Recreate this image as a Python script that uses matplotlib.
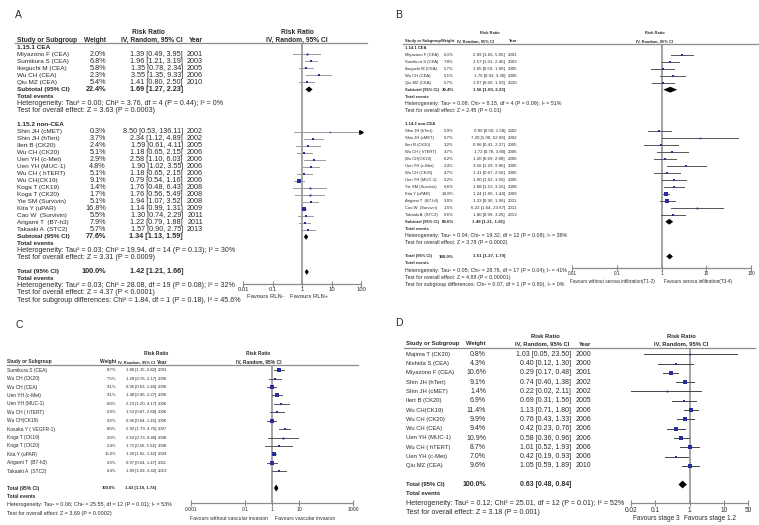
import matplotlib.pyplot as plt
import matplotlib.transforms as mtransforms
from matplotlib.lines import Line2D
from matplotlib.ticker import NullLocator
import numpy as np

plt.rcParams['font.family'] = ['Liberation Sans', 'DejaVu Sans']

# ---------------- Panel A data (RLN) ----------------
A1_names = ["Miyazono F (CEA)", "Sumikura S (CEA)", "Ikeguchi M (CEA)", "Wu CH (CEA)", "Qiu MZ (CEA)"]
A1_w = [2.0, 6.8, 5.8, 2.3, 5.4]
A1_rr = [1.39, 1.96, 1.35, 3.55, 1.41]
A1_lo = [0.49, 1.21, 0.78, 1.35, 0.80]
A1_hi = [3.95, 3.19, 2.34, 9.33, 2.50]
A1_year = [2001, 2003, 2005, 2006, 2010]
A1_sub = [22.4, 1.69, 1.27, 2.23]
A1_het = "Heterogeneity: Tau² = 0.00; Chi² = 3.76, df = 4 (P = 0.44); I² = 0%"
A1_z = "Test for overall effect: Z = 3.63 (P = 0.0003)"

A2_names = ["Shin JH (cMET)", "Shin JH (hTert)", "Ilert B (CK20)", "Wu CH (CK20)", "Uen YH (c-Met)",
            "Uen YH (MUC-1)", "Wu CH ( hTERT)", "Wu CH(CK19)", "Koga T (CK19)", "Koga T (CK20)",
            "Yie SM (Survivin)", "Kita Y (uPAR)", "Cao W  (Survivin)", "Arigami T  (B7-h3)", "Takaaki A  (STC2)"]
A2_w = [0.3, 3.7, 2.4, 5.1, 2.9, 4.8, 5.1, 9.1, 1.4, 1.7, 5.1, 16.8, 5.5, 7.9, 5.7]
A2_rr = [8.50, 2.34, 1.59, 1.18, 2.58, 1.90, 1.18, 0.79, 1.76, 1.76, 1.94, 1.14, 1.30, 1.22, 1.57]
A2_lo = [0.53, 1.12, 0.61, 0.65, 1.10, 1.02, 0.65, 0.54, 0.48, 0.56, 1.07, 0.99, 0.74, 0.79, 0.90]
A2_hi = [136.11, 4.89, 4.11, 2.15, 6.03, 3.55, 2.15, 1.16, 6.43, 5.49, 3.52, 1.31, 2.29, 1.88, 2.75]
A2_year = [2002, 2002, 2005, 2006, 2006, 2006, 2006, 2006, 2008, 2008, 2008, 2009, 2011, 2011, 2013]
A2_sub = [77.6, 1.34, 1.13, 1.59]
A2_het = "Heterogeneity: Tau² = 0.03; Chi² = 19.94, df = 14 (P = 0.13); I² = 30%"
A2_z = "Test for overall effect: Z = 3.31 (P = 0.0009)"

A_tot = [100.0, 1.42, 1.21, 1.66]
A_het = "Heterogeneity: Tau² = 0.03; Chi² = 28.08, df = 19 (P = 0.08); I² = 32%"
A_z = "Test for overall effect: Z = 4.37 (P < 0.0001)"
A_diff = "Test for subgroup differences: Chi² = 1.84, df = 1 (P = 0.18), I² = 45.6%"

# ---------------- Panel B data (serosa) ----------------
B1_names = ["Miyazono F (CEA)", "Sumikura S (CEA)", "Ikeguchi M (CEA)", "Wu CH (CEA)", "Qiu MZ (CEA)"]
B1_w = [6.1, 7.8, 5.7, 5.1, 5.7]
B1_rr = [2.89, 1.57, 1.05, 1.75, 1.07]
B1_lo = [1.66, 1.01, 0.59, 0.93, 0.60]
B1_hi = [5.05, 2.46, 1.89, 3.30, 1.93]
B1_year = [2001, 2003, 2005, 2006, 2010]
B1_sub = [30.4, 1.56, 1.09, 2.23]
B1_het = "Heterogeneity: Tau² = 0.08; Chi² = 8.15, df = 4 (P = 0.09); I² = 51%"
B1_z = "Test for overall effect: Z = 2.45 (P = 0.01)"

B2_names = ["Shin JH (hTert)", "Shin JH (cMET)", "Ilert B (CK20)", "Wu CH ( hTERT)", "Wu CH(CK19)",
            "Uen YH (c-Met)", "Wu CH (CK20)", "Uen YH (MUC-1)", "Yie SM (Survivin)", "Kita Y (uPAR)",
            "Arigami T  (B7-h3)", "Cao W  (Survivin)", "Takaaki A  (STC2)"]
B2_w = [5.9, 0.7, 3.2, 3.7, 6.2, 2.4, 4.7, 5.2, 6.6, 14.8, 9.0, 1.5, 5.6]
B2_rr = [0.89, 7.20, 0.96, 1.72, 1.20, 3.56, 1.31, 1.90, 1.88, 1.24, 1.33, 6.22, 1.80]
B2_lo = [0.50, 1.00, 0.41, 0.78, 0.69, 1.29, 0.67, 1.02, 1.12, 1.06, 0.90, 1.64, 0.99]
B2_hi = [1.58, 52.09, 2.27, 3.80, 2.08, 9.86, 2.56, 3.55, 3.16, 1.44, 1.96, 23.67, 3.25]
B2_year = [2002, 2002, 2005, 2006, 2006, 2006, 2006, 2006, 2008, 2009, 2011, 2011, 2013]
B2_sub = [69.6, 1.48, 1.21, 1.81]
B2_het = "Heterogeneity: Tau² = 0.04; Chi² = 19.32, df = 12 (P = 0.08); I² = 38%"
B2_z = "Test for overall effect: Z = 3.78 (P = 0.0002)"

B_tot = [100.0, 1.51, 1.27, 1.79]
B_het = "Heterogeneity: Tau² = 0.05; Chi² = 28.76, df = 17 (P = 0.04); I² = 41%"
B_z = "Test for overall effect: Z = 4.88 (P < 0.00001)"
B_diff = "Test for subgroup differences: Chi² = 0.07, df = 1 (P = 0.80), I² = 0%"

# ---------------- Panel C data (vascular invasion) ----------------
C_names = ["Sumikura S (CEA)", "Wu CH (CK20)", "Wu CH (CEA)", "Uen YH (c-Met)", "Uen YH (MUC-1)",
           "Wu CH ( hTERT)", "Wu CH(CK19)", "Kosaka Y ( VEGFR-1)", "Koga T (CK19)", "Koga T (CK20)",
           "Kita Y (uPAR)", "Arigami T  (B7-h3)", "Takaaki A  (STC2)"]
C_w = [8.7, 7.5, 9.1, 9.1, 6.0, 6.9, 9.6, 8.0, 2.0, 2.4, 15.0, 9.3, 6.4]
C_rr = [1.80, 1.28, 0.96, 1.48, 2.23, 1.53, 0.96, 2.92, 2.63, 1.75, 1.20, 0.97, 1.89]
C_lo = [1.15, 0.76, 0.63, 0.96, 1.20, 0.87, 0.64, 1.79, 0.73, 0.56, 1.02, 0.64, 1.04]
C_hi = [2.82, 2.17, 1.46, 2.27, 4.17, 2.68, 1.45, 4.76, 9.46, 5.54, 1.42, 1.47, 3.42]
C_year = [2003, 2006, 2006, 2006, 2006, 2006, 2006, 2007, 2008, 2008, 2009, 2011, 2013]
C_tot = [100.0, 1.43, 1.18, 1.74]
C_het = "Heterogeneity: Tau² = 0.06; Chi² = 25.55, df = 12 (P = 0.01); I² = 53%"
C_z = "Test for overall effect: Z = 3.69 (P = 0.0002)"

# ---------------- Panel D data (stage) ----------------
D_names = ["Majima T (CK20)", "Nishida S (CEA)", "Miyazono F (CEA)", "Shin JH (hTert)", "Shin JH (cMET)",
           "Ilert B (CK20)", "Wu CH(CK19)", "Wu CH (CK20)", "Wu CH (CEA)", "Uen YH (MUC-1)",
           "Wu CH ( hTERT)", "Uen YH (c-Met)", "Qiu MZ (CEA)"]
D_w = [0.8, 4.3, 10.6, 9.1, 1.4, 6.9, 11.4, 9.9, 9.4, 10.9, 8.7, 7.0, 9.6]
D_rr = [1.03, 0.40, 0.29, 0.74, 0.22, 0.69, 1.13, 0.76, 0.42, 0.58, 1.01, 0.42, 1.05]
D_lo = [0.05, 0.12, 0.17, 0.40, 0.02, 0.31, 0.71, 0.43, 0.23, 0.36, 0.52, 0.19, 0.59]
D_hi = [23.50, 1.30, 0.48, 1.38, 2.11, 1.56, 1.80, 1.33, 0.76, 0.96, 1.93, 0.93, 1.89]
D_year = [2000, 2000, 2001, 2002, 2002, 2005, 2006, 2006, 2006, 2006, 2006, 2006, 2010]
D_tot = [100.0, 0.63, 0.48, 0.84]
D_het = "Heterogeneity: Tau² = 0.12; Chi² = 25.01, df = 12 (P = 0.01); I² = 52%"
D_z = "Test for overall effect: Z = 3.18 (P = 0.001)"

W, H = 759, 525
fig = plt.figure(figsize=(W / 100, H / 100), dpi=100)

TXT = '#2a2a2a'
GREY = '#8c8c8c'
BLUE = '#2b2ba0'


def fx(x):
    return x / W


def fy(y):
    return 1 - y / H


def studies(names, w, rr, lo, hi, year):
    return [('study', n, a, b, c, d, e) for n, a, b, c, d, e in zip(names, w, rr, lo, hi, year)]


def summary(label, vals, het, z, extra=None):
    rows = [('sum', label, *vals), ('bold', 'Total events'), ('plain', het), ('plain', z)]
    if extra:
        rows.append(('plain', extra))
    return rows


def draw_panel(letter, rows, g):
    fn, fnum, fpl, fh, ftk, fci = g['fs']
    fig.text(fx(g['lab'][0]), fy(g['lab'][1]), letter, fontsize=7.5, ha='left', va='center', color=TXT)

    # column headings
    fig.text(fx(g['rr_title']), fy(g['t1']), 'Risk Ratio', fontsize=fh, weight='bold', ha='center', va='center', color=TXT)
    fig.text(fx(g['name_x']), fy(g['t2']), 'Study or Subgroup', fontsize=fh, weight='bold', ha='left', va='center', color=TXT)
    fig.text(fx(g['w_x']), fy(g['t2']), 'Weight', fontsize=fh, weight='bold', ha='right', va='center', color=TXT)
    fig.text(fx(g['hdr_x']), fy(g['t2']), 'IV, Random, 95% CI', fontsize=fci, weight='bold', ha='left', va='center', color=TXT)
    fig.text(fx(g['yr_x']), fy(g['t2']), 'Year', fontsize=fh, weight='bold', ha='right', va='center', color=TXT)
    fig.text(fx(g['fp_title']), fy(g['t1']), 'Risk Ratio', fontsize=fh, weight='bold', ha='center', va='center', color=TXT)
    fig.text(fx(g['fp_title']), fy(g['t2']), 'IV, Random, 95% CI', fontsize=fh, weight='bold', ha='center', va='center', color=TXT)
    fig.add_artist(Line2D([fx(g['line'][0]), fx(g['line'][1])], [fy(g['head_y'])] * 2,
                          transform=fig.transFigure, color=GREY, lw=0.9))

    ax = fig.add_axes([fx(g['ax'][0]), fy(g['axis_y']), (g['ax'][1] - g['ax'][0]) / W,
                       (g['axis_y'] - g['head_y']) / H])
    y0, sp = g['y0'], g['sp']
    ax.set_xscale('log')
    ax.set_xlim(g['xlim'])
    ax.set_ylim((g['axis_y'] - y0) / sp, (g['head_y'] - y0) / sp)
    ax.patch.set_alpha(0)
    for s in ['top', 'left', 'right']:
        ax.spines[s].set_visible(False)
    ax.spines['bottom'].set_color(GREY)
    ax.spines['bottom'].set_linewidth(0.9)
    ax.set_yticks([])
    ax.set_xticks(g['ticks'])
    ax.set_xticklabels([str(t) for t in g['ticks']])
    ax.xaxis.set_minor_locator(NullLocator())
    ax.tick_params(axis='x', direction='inout', length=4, width=0.8, color=GREY,
                   labelsize=ftk, labelcolor=TXT, pad=g['pad'])
    ax.axvline(1, color=GREY, lw=1.1, zorder=1)

    tr = mtransforms.blended_transform_factory(fig.transFigure, ax.transData)
    xmax = g['xlim'][1]
    for r, row in enumerate(rows):
        kind = row[0]
        if kind == 'blank':
            continue
        if kind in ('section', 'bold', 'plain'):
            ax.text(fx(g['name_x']), r, row[1], transform=tr, fontsize=fpl if kind == 'plain' else fn,
                    ha='left', va='center', color=TXT, weight='normal' if kind == 'plain' else 'bold')
            continue
        if kind == 'study':
            _, name, w, rr, lo, hi, yr = row
            wt = 'normal'
        else:
            _, name, w, rr, lo, hi = row
            wt = 'bold'
        ax.text(fx(g['name_x']), r, name, transform=tr, fontsize=fn, ha='left', va='center', color=TXT, weight=wt)
        ax.text(fx(g['w_x']), r, f"{w:.1f}%", transform=tr, fontsize=fnum, ha='right', va='center', color=TXT, weight=wt)
        ax.text(fx(g['rr_x']), r, f"{rr:.2f} [{lo:.2f}, {hi:.2f}]", transform=tr, fontsize=fnum,
                ha='right', va='center', color=TXT, weight=wt)
        if kind == 'study':
            ax.text(fx(g['yr_x']), r, str(yr), transform=tr, fontsize=fnum, ha='right', va='center', color=TXT)
            ax.plot([lo, min(hi, xmax)], [r, r], color=g['ci'], lw=0.7, zorder=2, clip_on=False)
            if hi > xmax:
                ax.plot(xmax, r, marker='>', ms=2.6, color='black', clip_on=False, zorder=3)
            ax.plot(rr, r, marker='s', ms=0.5 * np.sqrt(w) + 0.7, color=BLUE, mec=BLUE, mew=0, zorder=3)
        else:
            h = 0.42
            ax.fill([lo, rr, hi, rr], [r, r - h, r, r + h], color='black', zorder=3, lw=0)

    fig.text(fx(g['fav_x'][0]), fy(g['fav_y']), g['fav'][0], fontsize=ftk, ha='right', va='center', color=TXT)
    fig.text(fx(g['fav_x'][1]), fy(g['fav_y']), g['fav'][1], fontsize=ftk, ha='left', va='center', color=TXT)


rows_A = ([('section', '1.15.1 CEA')] + studies(A1_names, A1_w, A1_rr, A1_lo, A1_hi, A1_year)
          + summary('Subtotal (95% CI)', A1_sub, A1_het, A1_z) + [('blank',), ('section', '1.15.2 non-CEA')]
          + studies(A2_names, A2_w, A2_rr, A2_lo, A2_hi, A2_year)
          + summary('Subtotal (95% CI)', A2_sub, A2_het, A2_z) + [('blank',)]
          + summary('Total (95% CI)', A_tot, A_het, A_z, A_diff))

rows_B = ([('section', '1.14.1 CEA')] + studies(B1_names, B1_w, B1_rr, B1_lo, B1_hi, B1_year)
          + summary('Subtotal (95% CI)', B1_sub, B1_het, B1_z) + [('blank',), ('section', '1.14.2 non-CEA')]
          + studies(B2_names, B2_w, B2_rr, B2_lo, B2_hi, B2_year)
          + summary('Subtotal (95% CI)', B2_sub, B2_het, B2_z) + [('blank',)]
          + summary('Total (95% CI)', B_tot, B_het, B_z, B_diff))

rows_C = (studies(C_names, C_w, C_rr, C_lo, C_hi, C_year) + [('blank',)]
          + summary('Total (95% CI)', C_tot, C_het, C_z))

rows_D = (studies(D_names, D_w, D_rr, D_lo, D_hi, D_year) + [('blank',)]
          + summary('Total (95% CI)', D_tot, D_het, D_z))

# fs = (names, numbers, plain lines, headings, ticks/favours, CI heading)
geom_A = dict(fs=(4.6, 5.2, 5.1, 4.8, 4.2, 4.8), lab=(15, 15), name_x=17, w_x=106, rr_x=183, hdr_x=121,
              yr_x=203, rr_title=148, t1=33, t2=40.5, head_y=43, line=(15, 367), fp_title=297, y0=47.3,
              sp=7.02, ax=(243.3, 361.3), axis_y=284.3, xlim=(0.01, 100), ticks=[0.01, 0.1, 1, 10, 100],
              pad=0.3, ci='#9a9a9a', fav=('Favours RLN-', 'Favours RLN+'), fav_x=(284, 290), fav_y=297)
geom_B = dict(fs=(3.0, 3.2, 3.8, 2.9, 3.4, 2.9), lab=(395, 15), name_x=405, w_x=454, rr_x=505, hdr_x=457,
              yr_x=517, rr_title=490, t1=33.3, t2=41, head_y=43.5, line=(403, 759), fp_title=655, y0=48,
              sp=6.95, ax=(572.3, 751), axis_y=267.7, xlim=(0.01, 100), ticks=[0.01, 0.1, 1, 10, 100],
              pad=0.5, ci='#555555',
              fav=('Favours without serosa infiltration(T1-2)', 'Favours serosa infiltration(T3-4)'),
              fav_x=(655, 664), fav_y=281)
geom_C = dict(fs=(3.5, 3.1, 3.9, 3.5, 3.7, 2.9), lab=(15, 325), name_x=7.3, w_x=116, rr_x=156, hdr_x=118,
              yr_x=167, rr_title=155.7, t1=353.7, t2=362, head_y=365, line=(7, 358), fp_title=258.5,
              y0=370.2, sp=8.42, ax=(190.7, 353.3), axis_y=503.3, xlim=(0.001, 1000),
              ticks=[0.001, 0.1, 1, 10, 1000], pad=1.0, ci='#555555',
              fav=('Favours without vascular invasion', 'Favours vascular invasion'),
              fav_x=(268, 275), fav_y=519)
geom_D = dict(fs=(4.2, 5.0, 5.1, 4.2, 4.7, 4.2), lab=(395, 323), name_x=406, w_x=486, rr_x=571, hdr_x=515,
              yr_x=591, rr_title=545, t1=336.5, t2=344, head_y=348, line=(404, 755), fp_title=681,
              y0=354.3, sp=9.3, ax=(630.7, 748.3), axis_y=503.3, xlim=(0.02, 50),
              ticks=[0.02, 0.1, 1, 10, 50], pad=0.8, ci='#444444',
              fav=('Favours stage 3', 'Favours stage 1.2'), fav_x=(680, 684.3), fav_y=518.7)

draw_panel('A', rows_A, geom_A)
draw_panel('B', rows_B, geom_B)
draw_panel('C', rows_C, geom_C)
draw_panel('D', rows_D, geom_D)

fig.savefig('out.png', dpi=100)
